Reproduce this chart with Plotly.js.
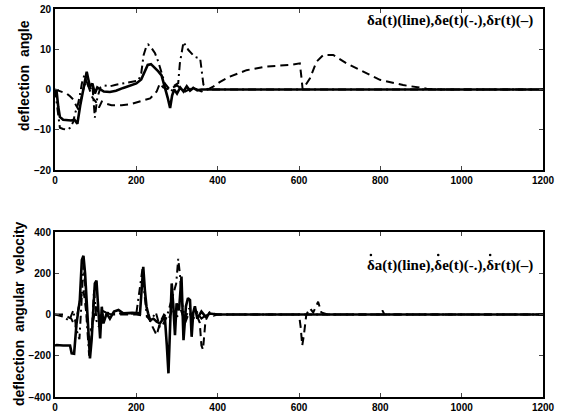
<!DOCTYPE html>
<html>
<head>
<meta charset="utf-8">
<script src="https://cdn.plot.ly/plotly-3.0.1.min.js"></script>
<style>html,body{margin:0;padding:0;background:#fff;}#chart{width:565px;height:419px;}</style>
</head>
<body>
<div id="chart"></div>
<script>
// ---- Top panel: deflection angle ----
const aX = [0,4,8,12,20,30,40,48,55,62,70,75,78,82,86,92,98,104,110,120,135,150,168,185,200,212,220,228,236,245,254,262,270,277,283,288,293,300,308,316,324,332,340,350,360,380,400,600,800,1000,1200];
const aY = [0,-0.5,-4.3,-6.8,-7.5,-7.6,-7.7,-7.5,-8.5,-4,0.7,3,4.4,2.5,0.7,1.5,-1,0.5,0.2,-0.5,-0.6,-0.3,0.4,1,1.5,2.5,4.5,6.1,6.3,5.5,4.5,3.5,0.7,-2,-4.6,-1.5,0,-1,0.5,-0.5,0.8,-0.3,0.4,-0.2,0,0,0,0,0,0,0];

const eX = [0,5,12,20,30,37,45,49,56,62,66,72,78,85,92,98,104,112,120,135,150,170,190,205,212,218,224,229,236,246,254,262,270,278,286,294,303,307,312,316,328,344,357,361,365,375,400,1200];
const eY = [0,-4,-9.5,-9.8,-10,-9.5,-8,-6,-3.9,-1,1.5,3.5,2,0,1,-7,-2,0.5,1,0.8,1.2,1.5,1.8,2.2,4,8.6,10.5,11.2,10.5,9,6.9,4,1.5,0.5,-0.5,1,1.6,6.5,10,11.8,9.8,8.1,7.7,4.8,1.2,0,0,0];

const rX = [0,15,29,37,45,52,58,65,72,78,85,92,100,108,115,125,139,164,184,209,234,250,258,266,280,300,320,340,360,375,390,406,430,471,520,578,602,606,609,627,643,660,684,717,758,799,856,914,950,1000,1200];
const rY = [0,-0.5,-1,-1.7,-2.5,-4,-5,-2,1,2,0,-2,-3,-4.5,-3,-3.5,-3.9,-3.9,-3.7,-3,-2.2,-0.5,1.5,0.5,0,1,-0.5,0.5,-0.5,0,0.8,1.9,3.2,4.8,5.7,6.1,6.5,3,0,2.8,6.9,8.6,8.6,6.5,4.4,2.4,1.1,0.2,0,0,0];

// ---- Bottom panel: deflection angular velocity ----
const vaX = [0,4,20,37,41,47,53,61,66,70,74,78,82,86,90,94,98,102,106,111,115,119,127,135,145,156,168,190,209,213,217,221,225,229,234,242,250,258,265,270,275,279,283,287,291,295,299,305,311,316,322,327,332,336,340,344,350,360,370,380,400,1200];
const vaY = [-150,-148,-150,-150,-188,-190,-43,70,265,285,200,38,-124,-213,-124,40,151,165,38,-116,38,-43,6,-20,15,22,6,8,6,150,232,119,38,6,-27,-20,-35,-43,-20,-10,-150,-285,-60,151,40,-100,54,20,184,-124,40,80,70,-108,10,40,-20,15,-10,5,0,0];

const veX = [0,20,35,45,55,60,65,70,74,78,84,90,96,102,108,115,125,140,200,210,215,220,226,235,248,258,265,275,290,298,303,307,312,320,330,340,350,360,380,400,1200];
const veY = [0,-10,-30,20,-90,-120,50,240,150,-30,-200,-100,120,-30,-60,20,10,5,5,150,220,100,-10,-30,10,-60,-50,-10,100,150,270,200,60,-20,30,-20,10,-20,10,0,0];

const vrX = [0,20,40,50,60,70,80,90,100,110,120,140,200,230,240,250,258,268,280,290,300,310,320,330,340,350,356,360,364,370,380,390,400,420,600,604,608,612,618,627,635,647,655,670,700,800,805,810,900,1200];
const vrY = [0,0,-20,-60,60,120,-40,-80,40,-20,10,0,0,-10,-60,-100,-40,0,-20,30,-10,20,-40,10,-30,-10,-40,-150,-170,-30,10,-5,0,0,0,-60,-150,-100,0,30,10,62,10,0,0,0,20,0,0,0];

const xTicks = [0,200,400,600,800,1000,1200];
const yTicksTop = [-20,-10,0,10,20];
const yTicksBot = [-400,-200,0,200,400];

const legendText = "δa(t)(line),δe(t)(-.),δr(t)(–)";
const titleTop = "deflection\u00a0\u00a0angle";
const titleBot = "deflection\u00a0\u00a0angular\u00a0\u00a0velocity";

// pixel geometry helpers (plot area 55..543 x, 9..397 y)
const L = 55, PW = 488, B = 397, PH = 388;
const px2x = p => (p - L) / PW;
const px2y = p => (B - p) / PH;

const legSize = 15;
const legLeft = 365;
const botLegY = 265;

const tickFont = {family: "Liberation Sans, Arial, sans-serif", size: 10, color: "#000", weight: "bold"};
const legFont = {family: "Liberation Serif, Times New Roman, serif", size: legSize, color: "#000"};
const titleFont = {family: "Liberation Sans, Arial, sans-serif", size: 14, color: "#000", weight: "bold"};

function ln(x, y, dash, w, xa, ya) {
  return {x: x, y: y, xaxis: xa, yaxis: ya, type: "scatter", mode: "lines",
          line: {color: "#000", width: w, dash: dash}, showlegend: false, hoverinfo: "skip"};
}

const DASH = "8px,5px";
const DASHDOT = "8px,4px,2px,4px";

const data = [
  ln(rX, rY, DASH, 2, "x", "y"),
  ln(eX, eY, DASHDOT, 2, "x", "y"),
  ln(aX, aY, "solid", 2.6, "x", "y"),
  ln(vrX, vrY, DASH, 2, "x2", "y2"),
  ln(veX, veY, DASHDOT, 2, "x2", "y2"),
  ln(vaX, vaY, "solid", 2.6, "x2", "y2")
];

function xa(anchor) {
  return {domain: [0,1], anchor: anchor, range: [0,1200], tickvals: xTicks, ticks: "inside", ticklen: 4,
          tickwidth: 1, showline: true, linewidth: 2, linecolor: "#000", mirror: "ticks",
          showgrid: false, zeroline: false, tickfont: tickFont};
}
function ya(anchor, domain, range, ticks) {
  return {domain: domain, anchor: anchor, range: range, tickvals: ticks, ticks: "inside", ticklen: 4,
          tickwidth: 1, showline: true, linewidth: 2, linecolor: "#000", mirror: "ticks",
          showgrid: false, zeroline: false, tickfont: tickFont};
}

const layout = {
  width: 565, height: 419,
  margin: {l: 55, r: 22, t: 9, b: 22},
  paper_bgcolor: "#fff", plot_bgcolor: "#fff",
  xaxis: xa("y"),
  yaxis: ya("x", [0.585, 1], [-20, 20], yTicksTop),
  xaxis2: xa("y2"),
  yaxis2: ya("x2", [0, 0.425], [-400, 400], yTicksBot),
  annotations: [
    {text: "<b>" + legendText + "</b>", xref: "paper", yref: "paper", x: px2x(legLeft), y: px2y(20), xanchor: "left", yanchor: "middle",
     showarrow: false, font: legFont},
    {text: "<b>" + legendText + "</b>", xref: "paper", yref: "paper", x: px2x(legLeft), y: px2y(botLegY), xanchor: "left", yanchor: "middle",
     showarrow: false, font: legFont},
    {text: titleTop, xref: "paper", yref: "paper", x: px2x(24), y: px2y(76), xanchor: "center", yanchor: "middle",
     textangle: -90, showarrow: false, font: titleFont},
    {text: titleBot, xref: "paper", yref: "paper", x: px2x(19), y: px2y(314), xanchor: "center", yanchor: "middle",
     textangle: -90, showarrow: false, font: titleFont}
  ]
};

Plotly.newPlot("chart", data, layout, {displayModeBar: false, staticPlot: true}).then(function (gd) {
  // place derivative dots above each δ of the lower legend, using the rendered glyph positions
  const texts = gd.querySelectorAll(".annotation-text");
  const el = texts[1];
  if (!el) return;
  const full = el.textContent;
  const shapes = [];
  const ctm = el.getScreenCTM();
  const svgRect = gd.getBoundingClientRect();
  // find the text node holding the glyphs (tspan for <b>)
  const tsp = el.querySelector("tspan") || el;
  for (let i = 0; i < full.length; i++) {
    if (full[i] !== "δ") continue;
    let ext;
    try { ext = el.getExtentOfChar(i); } catch (e) { continue; }
    const p = el.ownerSVGElement.createSVGPoint();
    p.x = ext.x + ext.width / 2; p.y = ext.y;
    const sp = p.matrixTransform(ctm);
    const cx = sp.x - svgRect.left;
    const cy = botLegY - 10;
    shapes.push({type: "circle", xref: "paper", yref: "paper",
      x0: px2x(cx - 1.3), x1: px2x(cx + 1.3), y0: px2y(cy + 1.3), y1: px2y(cy - 1.3),
      fillcolor: "#000", line: {width: 0}});
  }
  return Plotly.relayout(gd, {shapes: shapes});
});
</script>
</body>
</html>
